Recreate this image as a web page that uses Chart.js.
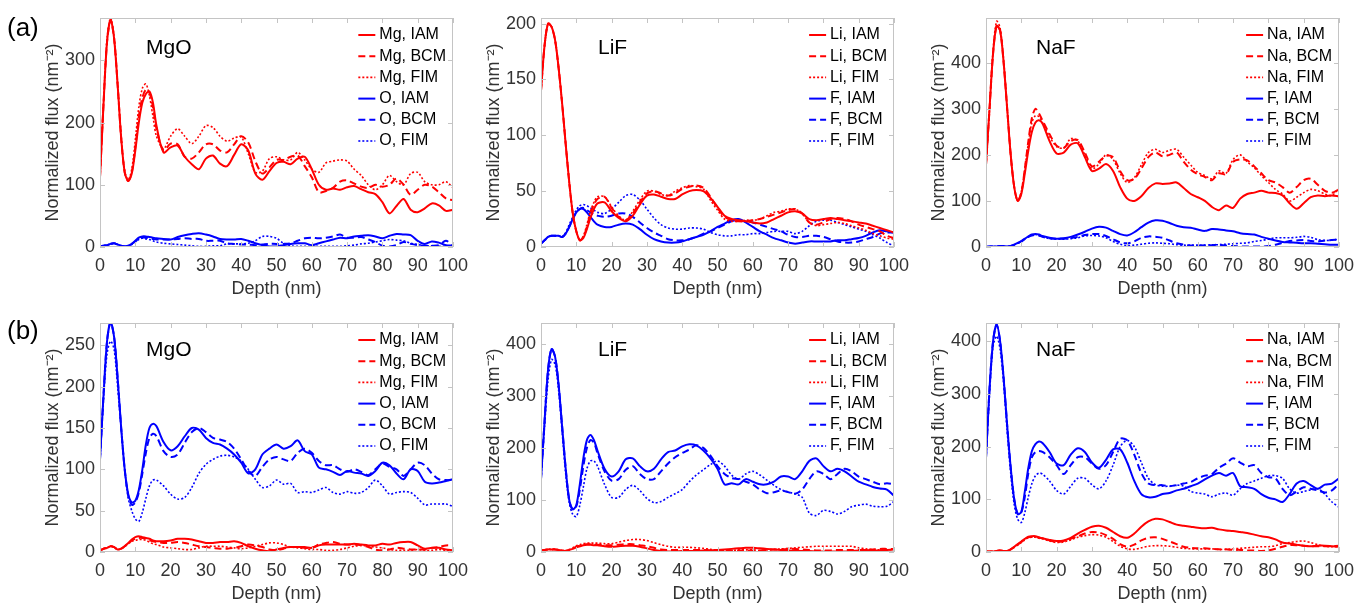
<!DOCTYPE html>
<html>
<head>
<meta charset="utf-8">
<script src="https://cdn.jsdelivr.net/npm/chart.js@4.4.1/dist/chart.umd.min.js"></script>
<style>
  body { margin: 0; background: #fff; font-family: "Liberation Sans", Arial, sans-serif; }
  #page { position: relative; width: 1369px; height: 604px; overflow: hidden; }
  .box { position: absolute; }
  .lbl { position: absolute; color: #000; white-space: nowrap; line-height: 1; }
</style>
</head>
<body>
<div id="page">
  <div class="box" style="left:30px;top:10px"><canvas id="a1" width="443" height="292"></canvas></div>
  <div class="box" style="left:471px;top:10px"><canvas id="a2" width="443" height="292"></canvas></div>
  <div class="box" style="left:916px;top:10px"><canvas id="a3" width="443" height="292"></canvas></div>
  <div class="box" style="left:30px;top:315px"><canvas id="b1" width="443" height="292"></canvas></div>
  <div class="box" style="left:471px;top:315px"><canvas id="b2" width="443" height="292"></canvas></div>
  <div class="box" style="left:916px;top:315px"><canvas id="b3" width="443" height="292"></canvas></div>

  <div class="lbl" style="left:7px;top:14px;font-size:26px">(a)</div>
  <div class="lbl" style="left:7px;top:317px;font-size:26px">(b)</div>
  <div class="lbl" style="left:146px;top:36px;font-size:21px">MgO</div>
  <div class="lbl" style="left:598px;top:36px;font-size:21px">LiF</div>
  <div class="lbl" style="left:1036px;top:36px;font-size:21px">NaF</div>
  <div class="lbl" style="left:146px;top:338px;font-size:21px">MgO</div>
  <div class="lbl" style="left:598px;top:338px;font-size:21px">LiF</div>
  <div class="lbl" style="left:1036px;top:338px;font-size:21px">NaF</div>
</div>
<script>
// depth grid (nm): 1 nm steps to 16, then 2 nm steps
const depth = [0,1,2,3,4,5,6,7,8,9,10,11,12,13,14,15,16,
  18,20,22,24,26,28,30,32,34,36,38,40,42,44,46,48,50,52,54,56,
  58,60,62,64,66,68,70,72,74,76,78,80,82,84,86,88,90,92,94,96,98,100];

// tick values
const depthTicks = [0,10,20,30,40,50,60,70,80,90,100];
const ticksA1 = [0,100,200,300];
const ticksA2 = [0,50,100,150,200];
const ticksA3 = [0,100,200,300,400];
const ticksB1 = [0,50,100,150,200,250];
const ticksB2 = [0,100,200,300,400];
const ticksB3 = [0,100,200,300,400];

// (a) MgO
const mgoA_Mg_IAM = [112,230,330,365,335,260,175,120,106,118,155,200,232,246,250,232,195,
  152,160,163,145,133,125,142,147,134,130, 148,165,155,118,108,122,135,137,133,142,
  145,125,100,92,94,92,96,98,93,88, 85,72,54,66,77,60,56,62,70,67,58,60];
const mgoA_Mg_BCM = [112,230,330,365,335,260,175,120,106,120,160,210,240,253,248,225,190,
  155,166,165,145,142,152,165,165,155,152, 165,178,168,138,118,128,140,140,145,147,
  130,112,88,90,95,105,107,102,97,95, 100,97,100,110,100,84,92,100,97,88,78,75];
const mgoA_Mg_FIM = [112,232,335,368,338,262,178,122,108,125,172,225,255,262,243,210,178,
  158,178,190,178,166,178,195,192,178,170, 175,177,150,120,122,142,145,140,140,152,
  140,125,120,135,138,140,138,125,115,100, 92,100,115,105,100,118,120,105,100,100,105,95];
const mgoA_O_IAM = [1,2,3,5,6,4,2,1,2,5,10,15,17,17,16,15,14,
  13,12,16,19,21,22,20,17,13,12, 12,13,10,6,3,1,1,3,5,6,
  6,3,6,9,12,15,14,17,18,19, 17,14,18,21,20,19,10,5,9,7,3,2];
const mgoA_O_BCM = [1,2,3,5,6,4,2,1,2,5,9,13,15,15,14,13,12,
  12,12,13,14,13,13,10,10,10,6, 5,4,4,3,4,5,5,5,6,10,
  14,15,14,15,17,20,15,15,16,12, 8,2,1,3,8,5,3,2,2,3,10,2];
const mgoA_O_FIM = [1,2,3,5,6,4,2,1,2,4,8,12,14,13,12,10,8,
  6,5,4,3,2,1,1,2,2,5, 5,5,6,10,17,17,14,6,2,1,
  1,1,1,1,1,1,2,3,5,6, 8,10,12,11,10,6,4,2,2,1,1,1];

// (a) LiF
const lifA_Li_IAM = [140,180,200,197,185,160,128,92,58,30,14,6,8,16,26,34,39,
  40,32,26,23,28,38,46,47,45,43, 43,47,50,51,50,44,36,28,25,24,
  23,22,21,22,25,28,31,32,30,25, 24,25,26,25,24,23,22,21,19,17,15,13];
const lifA_Li_BCM = [140,180,200,197,185,160,128,92,58,30,14,6,9,18,30,38,43,
  45,35,27,24,30,40,48,50,48,46, 48,52,54,55,53,45,35,27,24,23,
  23,24,25,27,29,31,33,34,30,22, 20,22,25,26,25,23,20,18,16,14,10,8];
const lifA_Li_FIM = [140,180,200,197,185,160,128,92,58,30,14,6,10,20,32,40,45,
  45,36,28,24,32,42,50,50,47,46, 50,53,55,54,52,42,33,25,23,23,
  24,24,25,28,31,32,34,34,30,22, 19,20,21,22,21,19,17,15,12,10,8,7];
const lifA_F_IAM = [3,6,9,10,10,10,9,12,18,25,31,34,34,31,27,23,20,
  18,18,20,21,20,16,11,7,5,4, 4,5,7,9,11,14,18,21,24,25,
  22,18,14,11,8,6,4,3,4,5, 5,5,5,6,6,7,8,10,13,15,14,13];
const lifA_F_BCM = [3,6,9,10,10,10,9,12,18,25,31,34,35,33,31,29,28,
  27,28,30,30,27,22,17,13,10,7, 6,6,7,9,12,14,17,20,23,24,
  23,22,20,18,16,14,11,9,9,10, 10,9,7,5,4,4,5,7,9,12,13,13];
const lifA_F_FIM = [3,6,9,10,10,10,9,13,20,27,33,37,38,37,35,33,31,
  30,34,40,46,47,42,34,26,20,17, 16,16,17,17,16,13,11,10,10,11,
  11,12,12,13,14,14,14,12,14,19, 23,24,24,22,20,18,16,14,11,8,4,1];

// (a) NaF
const nafA_Na_IAM = [178,300,420,480,470,400,300,200,130,100,115,160,210,250,270,275,268,
  230,203,205,222,225,195,165,170,180,165, 130,105,100,110,128,138,137,138,140,128,
  115,108,100,87,80,90,85,105,115,118, 122,118,117,112,95,83,95,108,112,110,112,110];
const nafA_Na_BCM = [178,300,420,480,470,400,300,200,130,100,118,170,230,280,300,290,275,
  245,220,215,230,232,205,175,185,198,195, 165,145,148,170,195,205,197,200,205,185,
  168,158,152,145,160,158,185,190,188,175, 160,145,140,130,118,130,145,148,135,122,118,125];
const nafA_Na_FIM = [178,300,425,490,475,405,302,200,130,100,120,170,225,270,285,283,270,
  240,218,215,235,230,200,170,180,200,190, 160,140,150,178,205,212,205,210,212,195,
  178,162,155,148,165,160,190,200,185,172, 155,140,125,115,100,108,118,125,122,115,112,128];
const nafA_F_IAM = [0,1,1,1,2,2,1,2,5,9,13,18,23,27,28,27,24,
  20,18,19,22,27,33,40,44,42,35, 28,25,32,43,53,58,57,52,46,43,
  42,38,35,39,38,36,34,30,28,27, 22,18,14,11,10,9,8,8,7,6,5,5];
const nafA_F_BCM = [0,1,1,1,2,2,1,2,5,8,12,17,22,25,26,25,22,
  19,18,18,19,22,26,28,28,24,17, 10,8,12,20,23,22,20,14,8,5,
  3,3,4,4,5,3,2,1,1,1, 1,2,5,9,13,14,15,13,12,14,15,16];
const nafA_F_FIM = [0,1,1,1,2,2,1,2,5,8,11,17,22,26,27,25,22,
  18,17,17,18,20,24,25,24,20,12, 6,3,4,6,8,9,8,7,5,4,
  4,4,4,5,5,6,7,8,9,12, 14,17,20,20,20,21,23,21,16,14,15,17];

// (b) MgO
const mgoB_Mg_IAM = [2,4,5,7,6,3,4,7,11,15,18,19,18,17,16,14,13,
  13,14,16,16,15,13,11,11,12,12, 13,11,7,4,2,1,3,5,6,6,
  6,5,8,9,9,9,9,10,9,8, 8,10,9,11,12,12,8,4,5,5,3,2];
const mgoB_Mg_BCM = [2,4,5,7,6,3,4,7,10,14,16,17,17,16,14,13,12,
  11,11,12,11,9,7,6,5,4,4, 5,7,9,8,6,3,2,4,6,6,
  5,5,9,11,12,10,9,9,8,6, 3,2,3,5,4,3,3,3,5,6,8,8];
const mgoB_Mg_FIM = [2,4,5,7,6,3,4,7,10,13,14,15,15,14,12,10,9,
  6,5,4,3,3,5,7,7,7,6, 5,4,5,7,9,11,11,9,6,5,
  4,3,3,2,2,3,5,7,8,7, 6,5,3,2,2,2,3,2,2,3,2,2];
const mgoB_O_IAM = [112,190,255,278,260,210,150,100,70,60,62,75,100,130,150,155,152,
  133,123,128,140,150,148,138,132,130,125, 118,108,95,100,118,125,130,125,128,135,
  122,118,102,100,97,93,98,96,95,92, 98,108,105,95,88,100,98,85,83,84,86,88];
const mgoB_O_BCM = [112,190,255,278,260,210,150,100,68,57,60,72,95,120,138,143,140,
  122,115,118,132,145,150,145,138,136,133, 125,112,98,92,103,112,115,112,110,120,
  125,120,110,105,105,100,97,100,97,93, 100,107,103,100,92,100,108,105,95,88,87,87];
const mgoB_O_FIM = [112,185,240,255,245,200,150,100,65,50,40,37,48,65,80,87,87,
  80,70,64,66,78,95,106,112,116,117, 115,110,100,88,78,80,87,82,83,72,
  73,72,75,78,72,70,73,71,72,78, 87,80,70,72,73,72,65,57,58,58,58,55];

// (b) LiF
const lifB_Li_IAM = [3,4,5,5,5,4,3,2,4,6,9,11,13,14,14,13,13,
  11,10,11,12,12,10,7,4,2,1, 1,2,2,2,3,3,4,5,6,7,
  8,8,7,6,5,4,3,3,2,2, 1,1,1,1,1,2,3,4,3,3,4,5];
const lifB_Li_BCM = [3,4,5,5,5,4,3,2,4,7,10,12,14,15,15,14,14,
  13,13,14,15,15,13,11,8,5,4, 4,4,4,4,4,3,2,2,3,3,
  3,3,3,4,5,5,6,6,5,4, 3,3,3,4,4,4,4,4,5,6,6,6];
const lifB_Li_FIM = [3,4,5,5,5,4,3,3,5,8,12,14,16,17,17,17,17,
  16,16,19,22,24,24,22,18,14,11, 9,9,9,8,7,5,4,3,3,4,
  4,4,3,4,5,6,7,8,9,10, 11,11,11,11,11,11,8,6,5,4,4,5];
const lifB_F_IAM = [140,250,350,390,375,320,240,160,100,82,90,130,180,215,225,215,195,
  160,145,155,178,180,165,155,160,178,192, 195,203,207,205,195,180,160,130,132,130,
  140,135,130,130,135,145,145,140,155,175, 180,165,155,160,155,145,135,130,125,122,120,108];
const lifB_F_BCM = [140,250,350,390,375,320,240,160,100,82,88,120,165,200,215,210,190,
  155,137,140,158,165,150,140,140,155,170, 182,190,197,205,200,185,165,150,142,140,
  135,130,120,113,115,118,115,112,120,140, 155,150,140,150,160,155,145,140,135,130,132,130];
const lifB_F_FIM = [140,240,330,370,360,310,230,150,95,72,68,90,125,160,175,175,165,
  130,105,105,120,128,118,103,95,97,105, 112,120,135,148,158,168,175,165,148,140,
  150,155,148,138,128,120,115,112,105,75, 70,80,78,73,78,87,90,92,88,87,88,97];

// (b) NaF
const nafB_Na_IAM = [1,1,1,2,3,2,2,5,10,15,20,25,29,30,30,28,26,
  23,21,22,27,35,42,48,50,46,38, 30,27,35,48,58,63,62,57,52,50,
  48,46,45,46,43,41,40,38,36,33, 30,28,24,18,16,14,12,11,12,12,11,10];
const nafB_Na_BCM = [1,1,1,2,3,2,2,5,9,14,19,24,28,29,29,27,26,
  22,19,21,25,30,35,38,37,32,25, 15,10,14,22,27,28,25,20,15,10,
  8,7,7,6,5,5,4,4,3,3, 2,3,6,10,13,13,12,11,11,11,11,12];
const nafB_Na_FIM = [1,1,1,2,3,2,2,5,9,13,18,23,27,28,28,26,25,
  21,18,19,23,28,31,33,32,28,20, 11,6,5,8,11,12,12,11,9,7,
  6,6,6,6,5,5,6,7,8,9, 10,10,12,16,18,20,21,18,14,11,10,10];
const nafB_F_IAM = [178,310,400,432,400,330,240,160,100,72,76,115,160,192,205,210,207,
  190,168,165,185,197,190,170,160,175,195, 195,170,135,110,104,105,110,112,117,120,
  125,130,138,145,150,145,150,125,123,120, 110,103,100,95,110,130,135,127,120,128,130,140];
const nafB_F_BCM = [178,310,400,432,400,330,240,160,100,72,75,105,150,180,190,192,190,
  180,165,148,165,180,180,168,158,165,190, 215,212,185,150,130,127,127,125,127,130,
  133,140,145,148,160,168,178,170,163,165, 150,142,140,120,108,115,123,120,117,113,117,130];
const nafB_F_FIM = [178,300,390,410,385,320,230,150,90,62,56,75,105,130,145,150,148,
  135,117,110,125,140,140,128,120,135,165, 200,212,200,170,140,128,125,125,127,125,
  115,112,110,105,110,112,108,120,130,135, 140,145,145,140,120,112,115,118,120,110,95,85];

const RED = '#ff0000';
const BLUE = '#0000ff';
const TXT = '#333333';
const FONT = '"Liberation Sans", Arial, sans-serif';

Chart.defaults.font.family = FONT;

function line(label, values, color, kind) {
  const dash = kind === 'BCM' ? [7, 4] : kind === 'FIM' ? [2, 2] : [];
  return {
    label: label + ', ' + kind,
    data: values.map((v, i) => ({ x: depth[i], y: v })),
    borderColor: color,
    borderWidth: kind === 'FIM' ? 1.6 : 2,
    borderDash: dash,
    pointRadius: 0,
    tension: 0.3,
    fill: false
  };
}

// box with inward ticks, matlab style
const frame = {
  id: 'frame',
  afterDatasetsDraw(chart) {
    const { ctx, chartArea: a, scales: { x, y } } = chart;
    ctx.save();
    ctx.strokeStyle = '#c4c4c4';
    ctx.lineWidth = 1;
    ctx.setLineDash([]);
    ctx.strokeRect(a.left + 0.5, a.top + 0.5, a.width - 1, a.height - 1);
    ctx.beginPath();
    x.ticks.forEach(t => {
      const px = Math.round(x.getPixelForValue(t.value)) + 0.5;
      ctx.moveTo(px, a.bottom); ctx.lineTo(px, a.bottom - 5);
      ctx.moveTo(px, a.top); ctx.lineTo(px, a.top + 5);
    });
    y.ticks.forEach(t => {
      const py = Math.round(y.getPixelForValue(t.value)) + 0.5;
      ctx.moveTo(a.left, py); ctx.lineTo(a.left + 5, py);
      ctx.moveTo(a.right, py); ctx.lineTo(a.right - 5, py);
    });
    ctx.stroke();
    ctx.restore();
  }
};

// legend in the upper right corner of the axes
const boxLegend = {
  id: 'boxLegend',
  afterDraw(chart) {
    const { ctx, chartArea: a } = chart;
    const sets = chart.data.datasets;
    ctx.save();
    ctx.font = '16px ' + FONT;
    const w = Math.max(...sets.map(d => ctx.measureText(d.label).width));
    const tx = a.right - 7 - w;
    sets.forEach((d, i) => {
      const yy = a.top + 17 + i * 21.2;
      ctx.strokeStyle = d.borderColor;
      ctx.lineWidth = d.borderWidth;
      ctx.setLineDash(d.borderDash);
      ctx.beginPath();
      ctx.moveTo(tx - 21, yy);
      ctx.lineTo(tx - 4, yy);
      ctx.stroke();
      ctx.fillStyle = '#000';
      ctx.textBaseline = 'middle';
      ctx.fillText(d.label, tx, yy);
    });
    ctx.restore();
  }
};

function panel(id, sets, yMax, yTicks) {
  const font = { size: 18 };
  new Chart(document.getElementById(id), {
    type: 'line',
    data: { datasets: sets },
    options: {
      responsive: false,
      animation: false,
      layout: { padding: { top: 8, right: 20, left: 0, bottom: 0 } },
      plugins: { legend: { display: false }, tooltip: { enabled: false } },
      scales: {
        x: {
          type: 'linear', min: 0, max: 100,
          ticks: { padding: 8, font, color: TXT, maxRotation: 0, autoSkip: false },
          afterBuildTicks(s) { s.ticks = depthTicks.map(v => ({ value: v })); },
          grid: { display: false, drawTicks: false },
          border: { display: false },
          title: { display: true, text: 'Depth (nm)', font, color: TXT, padding: { top: 0, bottom: 2 } },
          afterFit(s) { s.height = 55; s.paddingLeft = 0; s.paddingRight = 0; }
        },
        y: {
          type: 'linear', min: 0, max: yMax,
          ticks: { padding: 5, font, color: TXT },
          afterBuildTicks(s) { s.ticks = yTicks.map(v => ({ value: v })); },
          grid: { display: false, drawTicks: false },
          border: { display: false },
          title: { display: true, text: 'Normalized flux (nm\u207B\u00B2)', font, color: TXT, padding: { top: 12, bottom: 0 } },
          afterFit(s) { s.width = 70; s.paddingTop = 0; s.paddingBottom = 0; }
        }
      }
    },
    plugins: [frame, boxLegend]
  });
}

panel('a1', [
  line('Mg', mgoA_Mg_IAM, RED, 'IAM'), line('Mg', mgoA_Mg_BCM, RED, 'BCM'), line('Mg', mgoA_Mg_FIM, RED, 'FIM'),
  line('O', mgoA_O_IAM, BLUE, 'IAM'), line('O', mgoA_O_BCM, BLUE, 'BCM'), line('O', mgoA_O_FIM, BLUE, 'FIM')
], 368, ticksA1);
panel('a2', [
  line('Li', lifA_Li_IAM, RED, 'IAM'), line('Li', lifA_Li_BCM, RED, 'BCM'), line('Li', lifA_Li_FIM, RED, 'FIM'),
  line('F', lifA_F_IAM, BLUE, 'IAM'), line('F', lifA_F_BCM, BLUE, 'BCM'), line('F', lifA_F_FIM, BLUE, 'FIM')
], 205, ticksA2);
panel('a3', [
  line('Na', nafA_Na_IAM, RED, 'IAM'), line('Na', nafA_Na_BCM, RED, 'BCM'), line('Na', nafA_Na_FIM, RED, 'FIM'),
  line('F', nafA_F_IAM, BLUE, 'IAM'), line('F', nafA_F_BCM, BLUE, 'BCM'), line('F', nafA_F_FIM, BLUE, 'FIM')
], 497, ticksA3);
panel('b1', [
  line('Mg', mgoB_Mg_IAM, RED, 'IAM'), line('Mg', mgoB_Mg_BCM, RED, 'BCM'), line('Mg', mgoB_Mg_FIM, RED, 'FIM'),
  line('O', mgoB_O_IAM, BLUE, 'IAM'), line('O', mgoB_O_BCM, BLUE, 'BCM'), line('O', mgoB_O_FIM, BLUE, 'FIM')
], 277, ticksB1);
panel('b2', [
  line('Li', lifB_Li_IAM, RED, 'IAM'), line('Li', lifB_Li_BCM, RED, 'BCM'), line('Li', lifB_Li_FIM, RED, 'FIM'),
  line('F', lifB_F_IAM, BLUE, 'IAM'), line('F', lifB_F_BCM, BLUE, 'BCM'), line('F', lifB_F_FIM, BLUE, 'FIM')
], 440, ticksB2);
panel('b3', [
  line('Na', nafB_Na_IAM, RED, 'IAM'), line('Na', nafB_Na_BCM, RED, 'BCM'), line('Na', nafB_Na_FIM, RED, 'FIM'),
  line('F', nafB_F_IAM, BLUE, 'IAM'), line('F', nafB_F_BCM, BLUE, 'BCM'), line('F', nafB_F_FIM, BLUE, 'FIM')
], 435, ticksB3);
</script>
</body>
</html>
